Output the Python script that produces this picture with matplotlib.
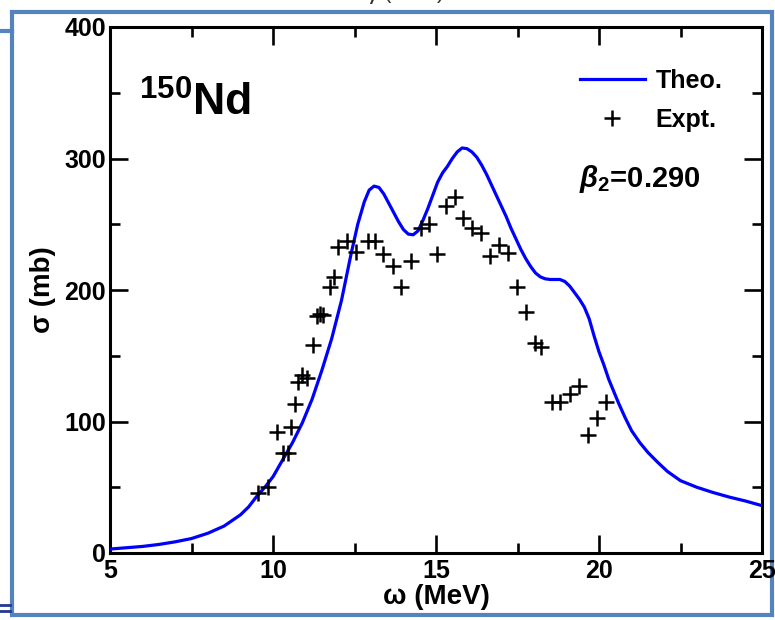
import matplotlib
matplotlib.use("Agg")
import matplotlib.pyplot as plt
from matplotlib.lines import Line2D
from matplotlib.patches import Rectangle
from matplotlib.ticker import MultipleLocator

plt.rcParams['font.family'] = ['Liberation Sans', 'DejaVu Sans']
plt.rcParams['mathtext.fontset'] = 'custom'
plt.rcParams['mathtext.rm'] = 'Liberation Sans:bold'
plt.rcParams['mathtext.it'] = 'Liberation Sans:bold:italic'
plt.rcParams['mathtext.bf'] = 'Liberation Sans:bold'

# Theoretical photoabsorption cross section (MeV, mb)
theo_energy = [5, 5.5, 6, 6.5, 7, 7.5, 8, 8.5, 9, 9.25, 9.5, 9.75,
               10.0, 10.3, 10.6, 10.9, 11.2, 11.5, 11.8, 12.1, 12.4, 12.6, 12.8,
               12.95, 13.1, 13.25, 13.4, 13.55, 13.7, 13.85, 14.0, 14.15, 14.3,
               14.45, 14.6, 14.75, 14.9, 15.05, 15.2, 15.35, 15.5, 15.65, 15.8,
               15.95, 16.1, 16.25, 16.4, 16.55, 16.7, 16.85, 17.0, 17.15, 17.3,
               17.45, 17.6, 17.75, 17.9, 18.05, 18.2, 18.35, 18.5, 18.65, 18.8,
               18.95, 19.1, 19.25, 19.4, 19.55, 19.7, 19.85, 20.0, 20.15, 20.3,
               20.45, 20.6, 20.8, 21.0, 21.25, 21.5, 21.8, 22.1, 22.5, 23.0,
               23.5, 24.0, 24.5, 25]
theo_sigma = [3, 4, 5, 6.5, 8.5, 11, 15, 20.5, 29, 35, 43, 50,
              58, 71, 84, 99, 117, 139, 163, 192, 228, 250, 267,
              276, 279, 278, 273, 266, 259, 252, 246, 242.5, 242,
              245, 253, 262, 272, 282, 289, 294, 300, 305, 308,
              307.5, 305, 301, 295, 288, 280, 272, 264, 256, 247,
              239, 231, 224, 218, 213, 210, 208.5, 208, 208, 208,
              206.5, 203, 198, 193, 187, 178, 165, 153, 143, 132,
              123, 114, 103, 93, 84, 76.5, 69, 62, 55, 50,
              46, 42.5, 39.5, 36]

# Experimental data (MeV, mb)
expt_energy = [9.55, 9.86, 10.11, 10.32, 10.45, 10.54, 10.67, 10.78, 10.88, 11.03,
               11.22, 11.34, 11.44, 11.54, 11.75, 11.88, 12.0, 12.28, 12.55, 12.92,
               13.14, 13.38, 13.69, 13.94, 14.22, 14.55, 14.77, 15.02, 15.31, 15.58,
               15.84, 16.09, 16.38, 16.66, 16.93, 17.22, 17.47, 17.76, 18.04, 18.22,
               18.55, 18.8, 19.11, 19.38, 19.67, 19.93, 20.21]
expt_sigma = [46, 50, 92, 76, 76, 96, 113, 130, 135, 133,
              158, 180, 182, 181, 202, 210, 233, 237, 229, 237,
              237, 227, 218, 202, 222, 247, 250, 227, 264, 271,
              255, 247, 243, 226, 234, 228, 202, 183, 160, 157,
              115, 115, 121, 127, 90, 103, 115]

x_ticks = [5, 10, 15, 20, 25]
y_ticks = [0, 100, 200, 300, 400]

W, H = 775, 620
fig = plt.figure(figsize=(W / 100, H / 100), dpi=100)

# slide frame around the plot
frame_color = '#5583BE'
fig.add_artist(Rectangle((12 / W, 1 - 615 / H), (772 - 12) / W, (615 - 12) / H,
                         transform=fig.transFigure, fill=False,
                         edgecolor=frame_color, linewidth=3.0, zorder=-1))
fig.add_artist(Line2D([0, 12 / W], [1 - 31 / H, 1 - 31 / H],
                      transform=fig.transFigure, color=frame_color, linewidth=3,
                      zorder=-1))
for yy in (605, 611):
    fig.add_artist(Line2D([0, 10 / W], [1 - yy / H, 1 - yy / H],
                          transform=fig.transFigure, color='#1F3A93', linewidth=2,
                          zorder=-1))
fig.text(0.515, 1.0 + 6 / H, r'E$_\gamma$ (MeV)', ha='center', va='center',
         fontsize=16, color='#333333')

ax = fig.add_axes([110 / W, 67 / H, 652 / W, 526 / H])

ax.plot(theo_energy, theo_sigma, color='#0000FF', linewidth=2.3, label='Theo.',
        zorder=3, solid_joinstyle='round')
ax.plot(expt_energy, expt_sigma, linestyle='none', marker='+', markersize=12,
        markeredgewidth=1.8, color='black', label='Expt.', zorder=4)

ax.set_xlim(5, 25)
ax.set_ylim(0, 400)
ax.set_xticks(x_ticks)
ax.set_yticks(y_ticks)
ax.xaxis.set_minor_locator(MultipleLocator(2.5))
ax.yaxis.set_minor_locator(MultipleLocator(50))
ax.tick_params(which='both', direction='in', top=True, right=True, width=1.9,
               labelsize=18)
ax.tick_params(which='major', length=13)
ax.tick_params(which='minor', length=7)
ax.tick_params(axis='y', pad=3)
ax.tick_params(axis='x', pad=4)
for lab in ax.get_xticklabels() + ax.get_yticklabels():
    lab.set_fontweight('bold')
for sp in ax.spines.values():
    sp.set_linewidth(2.2)

ax.set_xlabel('ω (MeV)', fontsize=20, fontweight='bold', labelpad=1)
ax.set_ylabel('σ (mb)', fontsize=20, fontweight='bold', labelpad=6)

ax.text(0.045, 0.832, r'$^{\mathbf{150}}$Nd', transform=ax.transAxes,
        fontsize=32, fontweight='bold', ha='left', va='baseline')
ax.text(0.72, 0.695, r'$\mathit{\beta}_{2}$=0.290', transform=ax.transAxes,
        fontsize=21, fontweight='bold', ha='left', va='baseline')

leg = ax.legend(loc='upper right', bbox_to_anchor=(0.955, 0.94), frameon=False,
                prop={'size': 18, 'weight': 'bold'}, handlelength=2.6,
                handletextpad=0.45, labelspacing=0.6, borderaxespad=0.0)

fig.savefig('out.png', dpi=100)
